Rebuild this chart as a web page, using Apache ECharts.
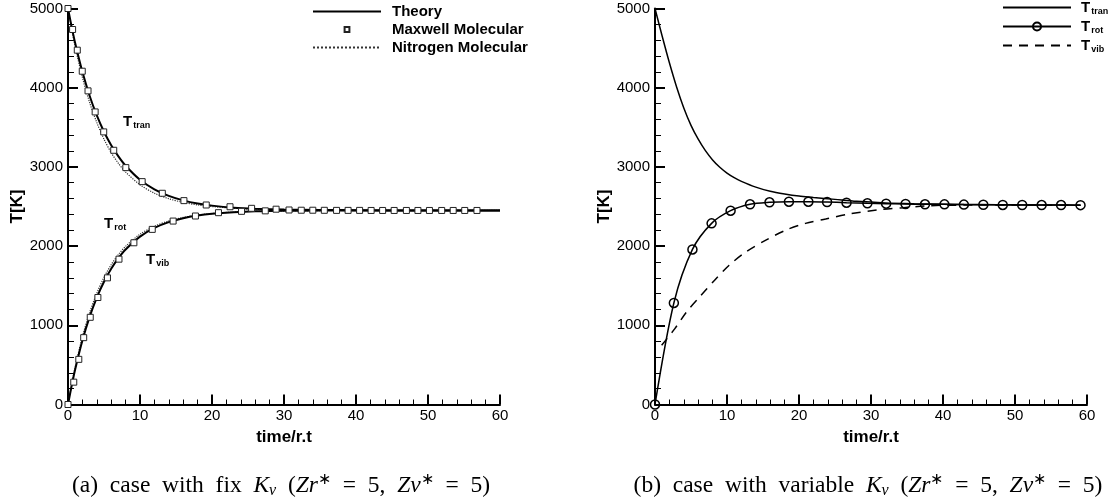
<!DOCTYPE html>
<html>
<head>
<meta charset="utf-8">
<script src="https://cdn.jsdelivr.net/npm/echarts@6/dist/echarts.min.js"></script>
<style>
  html, body { margin: 0; padding: 0; background: #fff; }
  #chart { width: 1120px; height: 502px; }
</style>
</head>
<body>
<div id="chart"></div>
<script>
// ---- (a) fixed Kv ----
var timeA = [0, 0.5, 1, 2, 3, 4, 5, 6, 7, 8, 10, 12, 14, 16, 18, 20, 23, 26, 30, 35, 40, 50, 60];
var theoryTran = [5000, 4771, 4562, 4200, 3899, 3650, 3444, 3273, 3132, 3015, 2838, 2717, 2634, 2577, 2537, 2511, 2485, 2471, 2461, 2456, 2453, 2450, 2450];
var theoryRot = [0, 233, 445, 808, 1106, 1350, 1550, 1713, 1847, 1957, 2120, 2230, 2303, 2352, 2385, 2407, 2427, 2439, 2446, 2449, 2450, 2450, 2450];
var nitroTran = [5000, 4745, 4515, 4130, 3815, 3560, 3350, 3180, 3045, 2935, 2775, 2668, 2598, 2552, 2520, 2500, 2478, 2465, 2457, 2453, 2451, 2450, 2450];
var nitroRot = [0, 250, 475, 855, 1160, 1405, 1605, 1765, 1893, 1997, 2150, 2250, 2318, 2362, 2392, 2411, 2430, 2440, 2446, 2449, 2450, 2450, 2450];

var maxTranT = [0, 0.64, 1.29, 1.98, 2.78, 3.77, 4.96, 6.35, 8.03, 10.3, 13.1, 16.1, 19.2, 22.5, 25.5, 28.9];
var maxTranV = [5000, 4735, 4474, 4208, 3960, 3694, 3442, 3210, 2991, 2814, 2667, 2574, 2519, 2497, 2477, 2466];
var maxRotT = [0, 0.8, 1.5, 2.18, 3.09, 4.15, 5.48, 7.08, 9.15, 11.7, 14.6, 17.7, 20.9, 24.1, 27.4];
var maxRotV = [0, 282, 570, 844, 1101, 1351, 1599, 1835, 2042, 2211, 2316, 2380, 2422, 2439, 2445];
var maxTailT = [30.7, 32.4, 34.0, 35.6, 37.3, 38.9, 40.5, 42.1, 43.7, 45.3, 47.0, 48.6, 50.2, 51.9, 53.5, 55.1, 56.8];
var maxTailV = [2456, 2453, 2453, 2452, 2451, 2451, 2451, 2450, 2450, 2450, 2450, 2450, 2450, 2450, 2450, 2450, 2450];

// ---- (b) variable Kv ----
var tranT = [0, 1, 2, 3, 4, 5, 6, 7, 8, 9, 10, 11, 12, 14, 16, 18, 20, 22, 25, 28, 32, 36, 40, 45, 50, 55, 59.1];
var tranV = [5000, 4650, 4315, 4010, 3745, 3525, 3350, 3205, 3088, 2995, 2922, 2864, 2818, 2745, 2692, 2658, 2632, 2615, 2590, 2565, 2545, 2535, 2529, 2524, 2521, 2519, 2517];
var rotT = [0, 2.62, 5.2, 7.86, 10.5, 13.2, 15.9, 18.6, 21.3, 23.9, 26.6, 29.5, 32.1, 34.8, 37.5, 40.2, 42.9, 45.6, 48.3, 51.0, 53.7, 56.4, 59.1];
var rotV = [0, 1282, 1958, 2287, 2447, 2528, 2553, 2561, 2561, 2557, 2548, 2540, 2536, 2532, 2528, 2527, 2524, 2522, 2520, 2519, 2518, 2518, 2517];
var vibT = [0.92, 2.76, 4.37, 6.2, 8.28, 10.3, 12.65, 15.4, 18.2, 20.9, 23.7, 26.9, 31.5, 34.5, 37.5, 40, 45, 50, 55, 59.1];
var vibV = [747, 958, 1168, 1358, 1570, 1759, 1928, 2076, 2203, 2287, 2342, 2405, 2464, 2485, 2506, 2515, 2518, 2518, 2517, 2517];

var xTicks = [0, 60, 10];
var yTicks = [0, 5000, 1000];

function pairs(t, v) {
  return t.map(function (x, i) { return [x, v[i]]; });
}

var sans = 'Liberation Sans, Arial, sans-serif';
var serif = 'Liberation Serif, Times New Roman, serif';

function xAxis(i) {
  return {
    gridIndex: i, type: 'value', min: xTicks[0], max: xTicks[1], interval: xTicks[2],
    name: 'time/r.t', nameLocation: 'middle', nameGap: 20,
    nameTextStyle: { color: '#000', fontWeight: 'bold', fontSize: 17, fontFamily: sans },
    axisLine: { lineStyle: { color: '#000', width: 2 } },
    axisTick: { inside: true, length: 10, lineStyle: { color: '#000', width: 2 } },
    minorTick: { show: true, splitNumber: 5, length: 5, lineStyle: { color: '#000', width: 1 } },
    splitLine: { show: false },
    axisLabel: { color: '#000', fontSize: 15, fontFamily: sans, margin: 4 }
  };
}
function yAxis(i) {
  return {
    gridIndex: i, type: 'value', min: yTicks[0], max: yTicks[1], interval: yTicks[2],
    name: 'T[K]', nameLocation: 'middle', nameGap: 42,
    nameTextStyle: { color: '#000', fontWeight: 'bold', fontSize: 17, fontFamily: sans },
    axisLine: { lineStyle: { color: '#000', width: 2 } },
    axisTick: { inside: true, length: 10, lineStyle: { color: '#000', width: 2 } },
    minorTick: { show: true, splitNumber: 5, length: 6, lineStyle: { color: '#000', width: 1 } },
    splitLine: { show: false },
    axisLabel: { color: '#000', fontSize: 15, fontFamily: sans, margin: 5, formatter: function (v) { return String(v); } }
  };
}

function line(name, data, grid, style, extra) {
  var s = {
    name: name, type: 'line', xAxisIndex: grid, yAxisIndex: grid, data: data,
    smooth: 0.3, showSymbol: false, symbol: 'circle', lineStyle: style,
    itemStyle: { color: '#000' }, silent: true
  };
  return Object.assign(s, extra || {});
}

var theoryStyle = { color: '#000', width: 2 };
var nitroStyle = { color: '#333', width: 1.2, type: 'dotted' };
var squares = {
  showSymbol: true, symbol: 'rect', symbolSize: 6, smooth: false,
  lineStyle: { opacity: 0, width: 0 },
  itemStyle: { color: '#fff', borderColor: '#222', borderWidth: 1 }
};

var subRich = {
  t: { fontSize: 15, fontWeight: 'bold', fontFamily: sans, color: '#000', lineHeight: 16 },
  s: { fontSize: 9, fontWeight: 'bold', fontFamily: sans, color: '#000', padding: [9, 0, 0, 1], verticalAlign: 'top' }
};

function subText(left, top, sub) {
  return { type: 'text', left: left, top: top, style: { text: '{t|T}{s|' + sub + '}', rich: subRich } };
}

var sp = '\u2002';
var capRich = {
  n: { fontFamily: serif, fontSize: 23.5, color: '#000', lineHeight: 26 },
  i: { fontFamily: serif, fontSize: 23.5, fontStyle: 'italic', color: '#000', lineHeight: 26 },
  sub: { fontFamily: serif, fontSize: 16, fontStyle: 'italic', color: '#000', padding: [11, 0, 0, 0], verticalAlign: 'top' },
  sup: { fontFamily: serif, fontSize: 16, color: '#000', verticalAlign: 'top' }
};
function caption(x, label, word) {
  var text = '{n|(' + label + ')' + sp + 'case' + sp + 'with' + sp + word + sp + '}{i|K}{sub|v}{n|' + sp + '(}' +
    '{i|Zr}{sup|∗}{n|' + sp + '=' + sp + '5,' + sp + '}{i|Zv}{sup|∗}{n|' + sp + '=' + sp + '5)}';
  return { type: 'text', x: x, y: 472, style: { text: text, rich: capRich, align: 'center' } };
}

var chart = echarts.init(document.getElementById('chart'));
chart.setOption({
  animation: false,
  backgroundColor: '#fff',
  grid: [
    { left: 68, top: 8.5, width: 432, height: 396 },
    { left: 655, top: 8.5, width: 432, height: 396 }
  ],
  xAxis: [xAxis(0), xAxis(1)],
  yAxis: [yAxis(0), yAxis(1)],
  legend: [
    {
      left: 312, top: 4, padding: 0, orient: 'vertical', itemWidth: 68, itemHeight: 6, itemGap: 3,
      selectedMode: false,
      textStyle: { color: '#000', fontWeight: 'bold', fontSize: 15, fontFamily: sans, padding: [0, 0, 0, 6] },
      data: [
        { name: 'Theory', itemStyle: { opacity: 0 } },
        { name: 'Maxwell Molecular' },
        { name: 'Nitrogen Molecular', itemStyle: { opacity: 0 } }
      ]
    },
    {
      left: 1002, top: 0, padding: 0, orient: 'vertical', itemWidth: 68, itemHeight: 10, itemGap: 2.5,
      selectedMode: false,
      formatter: function (n) { return '{t|T}{s|' + n.slice(1) + '}'; },
      textStyle: { rich: { t: Object.assign({}, subRich.t, { padding: [0, 0, 0, 5] }), s: subRich.s } },
      data: [
        { name: 'Ttran', itemStyle: { opacity: 0 } },
        { name: 'Trot' },
        { name: 'Tvib', itemStyle: { opacity: 0 } }
      ]
    }
  ],
  graphic: [
    subText(123, 114, 'tran'),
    subText(104, 216, 'rot'),
    subText(146, 252, 'vib'),
    caption(281, 'a', 'fix'),
    caption(868, 'b', 'variable')
  ],
  series: [
    line('Nitrogen Molecular', pairs(timeA, nitroTran), 0, nitroStyle),
    line('Nitrogen Molecular', pairs(timeA, nitroRot), 0, nitroStyle),
    line('Theory', pairs(timeA, theoryTran), 0, theoryStyle),
    line('Theory', pairs(timeA, theoryRot), 0, theoryStyle),
    line('Maxwell Molecular', pairs(maxTranT, maxTranV), 0, null, squares),
    line('Maxwell Molecular', pairs(maxRotT, maxRotV), 0, null, squares),
    line('Maxwell Molecular', pairs(maxTailT, maxTailV), 0, null, squares),

    line('Tvib', pairs(vibT, vibV), 1, { color: '#000', width: 1.5, type: [9, 7] }),
    line('Ttran', pairs(tranT, tranV), 1, { color: '#000', width: 1.5 }),
    line('Trot', pairs(rotT, rotV), 1, { color: '#000', width: 1.5 }, {
      showSymbol: true, symbol: 'circle', symbolSize: 9,
      itemStyle: { color: 'rgba(255,255,255,0)', borderColor: '#000', borderWidth: 1.5 }
    })
  ]
});
</script>
</body>
</html>
